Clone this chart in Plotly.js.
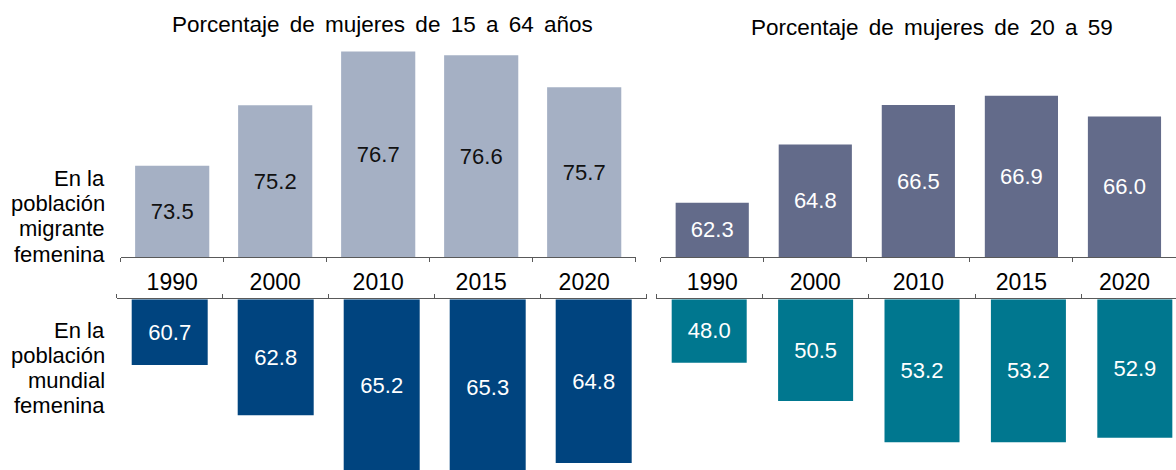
<!DOCTYPE html>
<html><head><meta charset="utf-8">
<script src="https://cdn.plot.ly/plotly-3.0.1.min.js"></script>
<style>
html,body{margin:0;padding:0;background:#fff;}
#chart{width:1176px;height:470px;}
.annotation[data-index="0"] text,.annotation[data-index="1"] text{word-spacing:4px;}
</style>
</head><body><div id="chart"></div>
<script>
// ---- data ----
const years = ['1990', '2000', '2010', '2015', '2020'];
const migrant1564 = [73.5, 75.2, 76.7, 76.6, 75.7];
const world1564 = [60.7, 62.8, 65.2, 65.3, 64.8];
const migrant2059 = [62.3, 64.8, 66.5, 66.9, 66.0];
const world2059 = [48.0, 50.5, 53.2, 53.2, 52.9];
const titles = ['Porcentaje de mujeres de 15 a 64 años', 'Porcentaje de mujeres de 20 a 59'];
const rowLabelTop = ['En la', 'población', 'migrante', 'femenina'];
const rowLabelBottom = ['En la', 'población', 'mundial', 'femenina'];

// ---- geometry / style ----
const W = 1176, H = 470;
const FONT = 'Liberation Sans, Arial, sans-serif';
const px = x => x / W;
const py = y => 1 - y / H;
const axisColor = '#595959';

// axis bottoms (value where bars start) and ranges
const base = {tl: 70.94, tr: 59.95, bl: 57.95, br: 43.86};
const range = {tl: [70.94, 76.884], tr: [59.95, 69.08], bl: [65.09, 57.95], br: [55.01, 43.86]};

function barTrace(vals, b, xa, ya, color, w, textColor) {
  return {
    type: 'bar', x: years, y: vals.map(v => v - b), base: b,
    xaxis: xa, yaxis: ya, width: w,
    marker: {color: color, line: {width: 0}},
    text: vals.map(v => v.toFixed(1)), textposition: 'inside', insidetextanchor: 'middle',
    textangle: 0, constraintext: 'none',
    textfont: {family: FONT, size: 22, color: textColor},
    hoverinfo: 'skip', showlegend: false
  };
}

const data = [
  barTrace(migrant1564, base.tl, 'x', 'y', '#A5B0C4', 0.72, '#111111'),
  barTrace(migrant2059, base.tr, 'x2', 'y2', '#636B8A', 0.71, '#ffffff'),
  barTrace(world1564, base.bl, 'x3', 'y3', '#00447F', 0.717, '#ffffff'),
  barTrace(world2059, base.br, 'x4', 'y4', '#00778F', 0.705, '#ffffff')
];

function xAxis(dom, rng, anchor, side, labels) {
  return {
    domain: dom, range: rng, anchor: anchor, side: side, type: 'category',
    tickson: 'boundaries', ticks: 'outside', ticklen: 4, tickwidth: 1, tickcolor: axisColor,
    showline: true, linecolor: axisColor, linewidth: 1, showgrid: false, zeroline: false,
    showticklabels: labels, ticklabelstandoff: 4,
    tickfont: {family: FONT, size: 23, color: '#000000'}, fixedrange: true
  };
}
function yAxis(dom, rng) {
  return {domain: dom, range: rng, visible: false, showgrid: false, zeroline: false, fixedrange: true};
}

const topDom = [py(257.3), py(45)];
const botDom = [0, py(299.3)];

const annotations = [];
annotations.push({text: titles[0], x: px(382), y: py(24.5), xref: 'paper', yref: 'paper',
  xanchor: 'center', yanchor: 'middle', showarrow: false, font: {family: FONT, size: 22.5, color: '#000'}});
annotations.push({text: titles[1], x: px(931.5), y: py(27.85), xref: 'paper', yref: 'paper',
  xanchor: 'center', yanchor: 'middle', showarrow: false, font: {family: FONT, size: 22.5, color: '#000'}});
const topY = [178.3, 203.6, 228.9, 254.2];
const botY = [330.8, 355.7, 380.6, 405.4];
rowLabelTop.forEach((t, i) => annotations.push({text: t, x: px(106.7), y: py(topY[i]), xref: 'paper', yref: 'paper',
  xanchor: 'right', yanchor: 'middle', align: 'right', showarrow: false, font: {family: FONT, size: 22, color: '#000'}}));
rowLabelBottom.forEach((t, i) => annotations.push({text: t, x: px(106.7), y: py(botY[i]), xref: 'paper', yref: 'paper',
  xanchor: 'right', yanchor: 'middle', align: 'right', showarrow: false, font: {family: FONT, size: 22, color: '#000'}}));

const layout = {
  width: W, height: H, margin: {l: 0, r: 0, t: 0, b: 0, pad: 0},
  paper_bgcolor: '#ffffff', plot_bgcolor: 'rgba(0,0,0,0)',
  font: {family: FONT, size: 22, color: '#000'},
  showlegend: false, bargap: 0.28,
  xaxis: xAxis([px(120.7), px(635.7)], [-0.5, 4.5], 'y', 'bottom', true),
  yaxis: yAxis(topDom, range.tl),
  xaxis2: xAxis([px(660.7), 1], [-0.5, 4.5], 'y2', 'bottom', true),
  yaxis2: yAxis(topDom, range.tr),
  xaxis3: xAxis([px(116.7), px(646.7)], [-0.5, 4.5], 'y3', 'top', false),
  yaxis3: yAxis(botDom, range.bl),
  xaxis4: xAxis([px(656), 1], [-0.5, 4.387], 'y4', 'top', false),
  yaxis4: yAxis(botDom, range.br),
  annotations: annotations
};

Plotly.newPlot('chart', data, layout, {displayModeBar: false, staticPlot: true});
</script>
</body></html>
